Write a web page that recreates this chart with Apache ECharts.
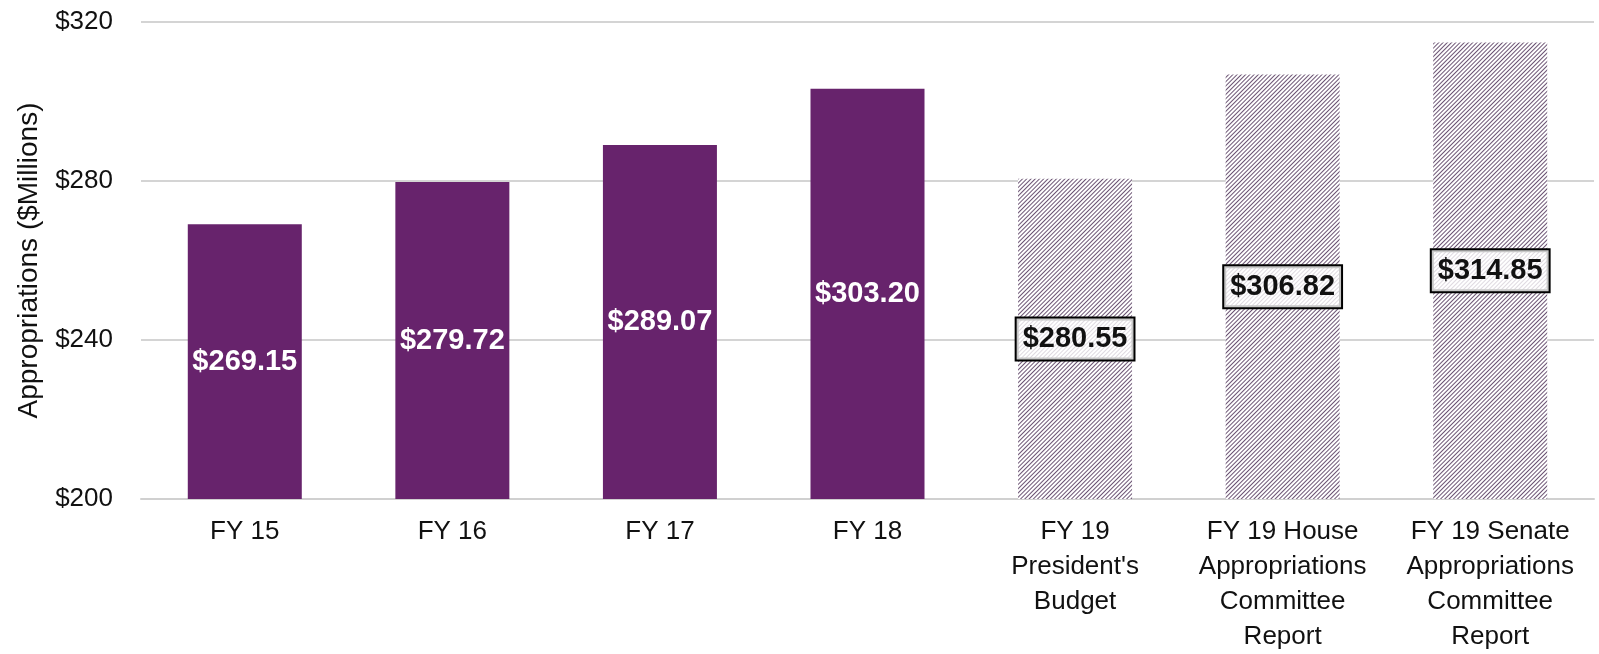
<!DOCTYPE html>
<html>
<head>
<meta charset="utf-8">
<script src="https://cdn.jsdelivr.net/npm/echarts@6/dist/echarts.min.js"></script>
<style>
  html, body { margin: 0; padding: 0; background: #fff; }
  #main { width: 1599px; height: 654px; }
</style>
</head>
<body>
<div id="main"></div>
<script>
// categories and values
var categories = ['FY 15', 'FY 16', 'FY 17', 'FY 18',
  'FY 19\nPresident\'s\nBudget',
  'FY 19 House\nAppropriations\nCommittee\nReport',
  'FY 19 Senate\nAppropriations\nCommittee\nReport']
var values = [269.15, 279.72, 289.07, 303.20, 280.55, 306.82, 314.85]
// which bars are proposals (hatched)
var proposed = [false, false, false, false, true, true, true]
var yTicks = [200, 240, 280, 320]

var purple = '#67236c'

var barData = values.map(function (v, i) {
  if (!proposed[i]) {
    return {
      value: v,
      itemStyle: { color: purple },
      label: { color: '#fff' }
    }
  }
  return {
    value: v,
    itemStyle: {
      color: '#fff',
      decal: {
        symbol: 'rect',
        symbolSize: 1,
        dashArrayX: [1, 0],
        dashArrayY: [1, 2],
        rotation: -Math.PI / 4,
        color: 'rgba(65,35,75,0.78)'
      }
    },
    label: {
      color: '#111',
      backgroundColor: 'rgba(255,255,255,0.78)',
      borderColor: '#000',
      borderWidth: 2,
      padding: [7, 6, 5, 6]
    }
  }
})

var myChart = echarts.init(document.getElementById('main'))
myChart.setOption({
  animation: false,
  grid: { left: 141, right: 5, top: 22, bottom: 149 },
  xAxis: {
    type: 'category',
    data: categories,
    axisTick: { show: false },
    axisLine: { lineStyle: { color: '#d0d0d0', width: 2 } },
    axisLabel: {
      interval: 0,
      color: '#111',
      fontFamily: 'Liberation Sans',
      fontSize: 26,
      lineHeight: 35,
      margin: 15
    }
  },
  yAxis: {
    type: 'value',
    min: yTicks[0],
    max: yTicks[yTicks.length - 1],
    interval: 40,
    name: 'Appropriations ($Millions)',
    nameLocation: 'middle',
    nameGap: 98,
    nameTextStyle: { color: '#111', fontFamily: 'Liberation Sans', fontSize: 28 },
    axisLine: { show: false },
    axisTick: { show: false },
    splitLine: { lineStyle: { color: '#d4d4d4', width: 2 } },
    axisLabel: {
      color: '#111',
      fontFamily: 'Liberation Sans',
      fontSize: 26,
      margin: 28,
      formatter: function (v) { return '$' + v }
    }
  },
  series: [{
    type: 'bar',
    data: barData,
    barWidth: 114,
    label: {
      show: true,
      position: 'inside',
      fontFamily: 'Liberation Sans',
      fontWeight: 'bold',
      fontSize: 29,
      formatter: function (p) { return '$' + p.value.toFixed(2) }
    }
  }]
})
</script>
</body>
</html>
